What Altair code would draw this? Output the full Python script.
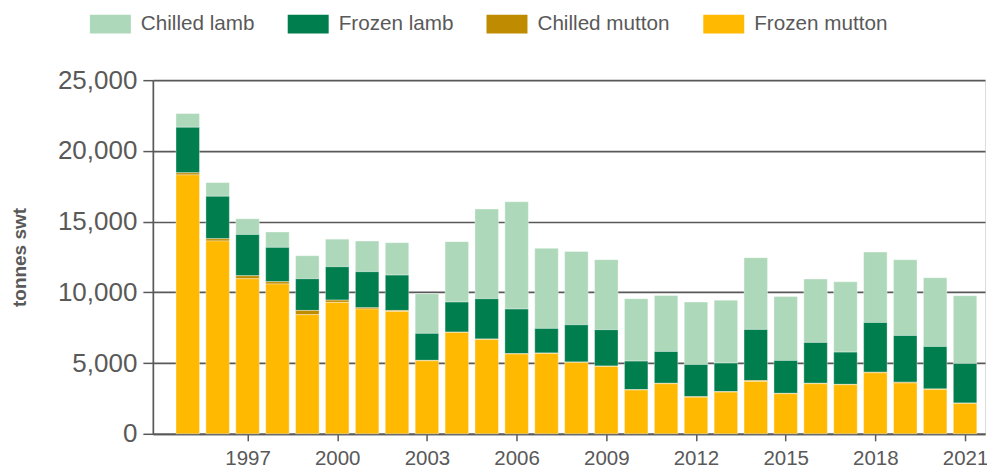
import altair as alt
import pandas as pd

years = list(range(1995, 2022))
frozen_mutton = [18300, 13630, 10960, 10590, 8420, 9290, 8820, 8650, 5160, 7165,
                 6670, 5635, 5680, 5045, 4760, 3090, 3540, 2590, 2950, 3700,
                 2830, 3540, 3465, 4310, 3585, 3135, 2145]
chilled_mutton = [150, 160, 210, 160, 300, 160, 90, 70, 30, 20,
                  30, 30, 30, 30, 30, 30, 30, 30, 30, 70,
                  30, 30, 30, 40, 60, 40, 30]
frozen_lamb = [3220, 3000, 2920, 2430, 2240, 2360, 2550, 2500, 1910, 2130,
               2850, 3150, 1740, 2630, 2570, 2020, 2250, 2280, 2020, 3610,
               2325, 2890, 2280, 3520, 3305, 2995, 2795]
chilled_lamb = [970, 970, 1110, 1085, 1630, 1950, 2170, 2290, 2800, 4270,
                6340, 7590, 5660, 5190, 4950, 4410, 3960, 4410, 4450, 5070,
                4525, 4480, 4970, 4980, 5355, 4860, 4790]

series = ["Chilled lamb", "Frozen lamb", "Chilled mutton", "Frozen mutton"]
colors = ["#ADD8B9", "#007E4E", "#BF8B00", "#FFB900"]
stack_order = {"Frozen mutton": 0, "Chilled mutton": 1, "Frozen lamb": 2, "Chilled lamb": 3}
tick_years = [1997, 2000, 2003, 2006, 2009, 2012, 2015, 2018, 2021]

rows = []
for name, vals in zip(series, [chilled_lamb, frozen_lamb, chilled_mutton, frozen_mutton]):
    for y, v in zip(years, vals):
        rows.append({"year": y, "series": name, "value": v, "ord": stack_order[name]})
df = pd.DataFrame(rows)

FONT = "Liberation Sans"
GRAY = "#595959"

chart = alt.Chart(df).mark_bar(size=23.5, stroke="white", strokeWidth=0.6, strokeOpacity=0.6).encode(
    x=alt.X("year:Q",
            scale=alt.Scale(domain=[1994, 2021.5], nice=False, zero=False),
            axis=alt.Axis(values=tick_years, format="d", title=None, grid=False,
                          labelFontSize=20.5, labelColor=GRAY, labelFont=FONT,
                          tickSize=7, tickColor=GRAY, tickWidth=1.5,
                          domainColor=GRAY, domainWidth=1.7, labelPadding=8,
                          labelFlush=False)),
    y=alt.Y("value:Q", stack="zero",
            scale=alt.Scale(domain=[0, 25000], nice=False),
            axis=alt.Axis(values=[0, 5000, 10000, 15000, 20000, 25000], format=",.0f",
                          title="tonnes swt", titleFontSize=19, titleFont=FONT,
                          titleFontWeight="bold", titleColor=GRAY,
                          titleX=-133, titleBaseline="middle",
                          labelFontSize=26, labelColor=GRAY, labelFont=FONT,
                          labelPadding=6, tickSize=10, tickColor=GRAY, tickWidth=1.5,
                          domainColor=GRAY, domainWidth=1.7,
                          grid=True, gridColor=GRAY, gridWidth=1.7)),
    color=alt.Color("series:N",
                    scale=alt.Scale(domain=series, range=colors),
                    legend=alt.Legend(title=None, orient="none", direction="horizontal",
                                      legendX=-63, legendY=-77,
                                      symbolType="M-1,-0.463H1V0.463H-1Z",
                                      symbolSize=1681, symbolStrokeWidth=0,
                                      labelFontSize=20.7, labelFont=FONT, labelColor=GRAY,
                                      labelOffset=10, columnPadding=33,
                                      labelLimit=300)),
    order=alt.Order("ord:Q", sort="ascending"),
).properties(
    width=833, height=354,
    autosize=alt.AutoSizeParams(type="none"),
    padding={"left": 145, "top": 72, "right": 2, "bottom": 35},
).configure_view(stroke=None).configure(font=FONT)

chart.save("out.html", embed_options={"renderer": "svg", "actions": False})
